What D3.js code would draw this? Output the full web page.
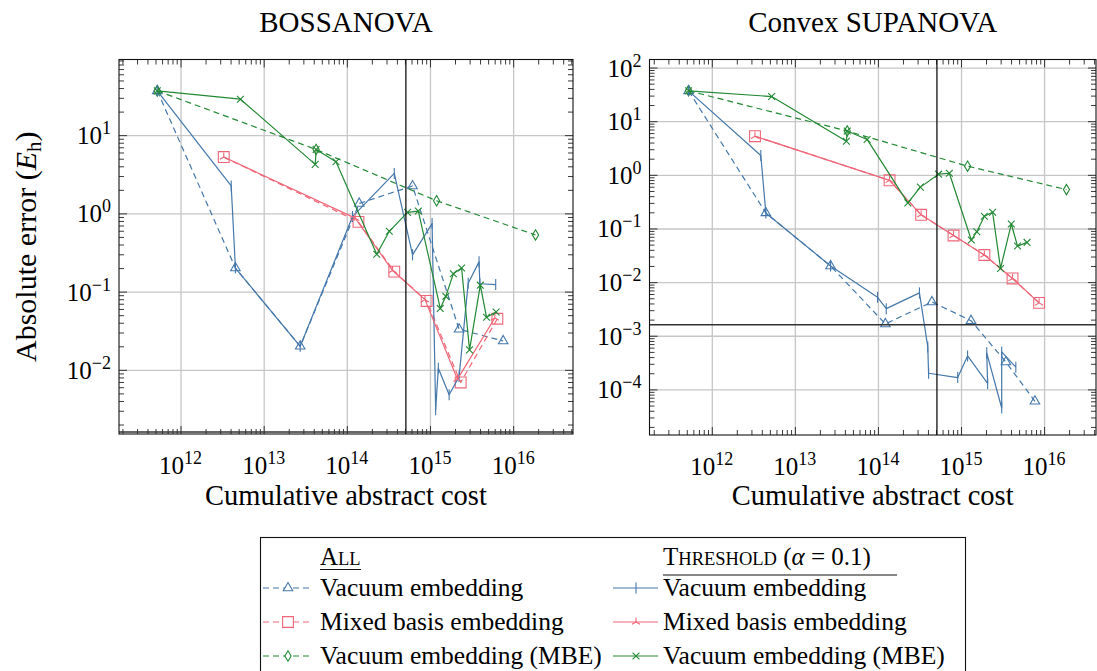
<!DOCTYPE html>
<html>
<head>
<meta charset="utf-8">
<script src="https://cdn.jsdelivr.net/npm/d3@7"></script>
<style>
  body { margin: 0; background: #fff; }
  svg { display: block; }
  svg text { font-family: "Liberation Serif", "Times New Roman", "DejaVu Serif", serif; }
</style>
</head>
<body>
<svg id="chart" width="1097" height="671"></svg>
<script>
// [cumulative abstract cost, absolute error (Eh)]
const bossVacuumAll = [[5.25e11, 36.8], [4.57e12, 0.20], [2.75e13, 0.020], [1.41e14, 1.34], [6.17e14, 2.24], [2.24e15, 0.033], [7.59e15, 0.0234]];
const bossVacuumThr = [[5.25e11, 36.8], [4.07e12, 2.24], [4.57e12, 0.20], [2.75e13, 0.020], [1.17e14, 0.91], [3.72e14, 3.24], [6.17e14, 0.295], [1.06e15, 0.74], [1.17e15, 0.0031], [1.26e15, 0.0105], [1.70e15, 0.0048], [2.24e15, 0.0082], [2.88e15, 0.128], [3.89e15, 0.24], [3.98e15, 0.126], [6.17e15, 0.123]];
const bossMixedAll = [[3.31e12, 5.25], [1.38e14, 0.78], [3.72e14, 0.18], [9.12e14, 0.076], [2.34e15, 0.0069], [6.46e15, 0.045]];
const bossMixedThr = [[3.31e12, 5.25], [1.26e14, 0.87], [3.55e14, 0.186], [8.71e14, 0.079], [2.14e15, 0.0076], [6.03e15, 0.046]];

const supaVacuumAll = [[5.25e11, 36.8], [4.47e12, 0.195], [2.69e13, 0.020], [1.23e14, 1.66e-3], [4.47e14, 4.27e-3], [1.32e15, 1.91e-3], [3.47e15, 3.24e-4], [7.76e15, 6.0e-5]];
const supaVacuumThr = [[5.25e11, 36.8], [3.89e12, 2.29], [4.47e12, 0.195], [2.69e13, 0.020], [9.9e13, 5.2e-3], [1.26e14, 3.2e-3], [3.16e14, 6.3e-3], [3.98e14, 6.2e-4], [4.07e14, 2.0e-4], [9.12e14, 1.66e-4], [1.20e15, 4.2e-4], [2.09e15, 1.29e-4], [2.04e15, 4.8e-4], [3.09e15, 4.5e-5], [3.09e15, 5.0e-4], [4.57e15, 2.6e-4]];
const supaMixedAll = [[3.31e12, 5.25], [1.38e14, 0.79], [3.31e14, 0.18], [8.13e14, 0.074], [1.91e15, 0.032], [4.17e15, 0.0117], [8.71e15, 0.0041]];
const supaMixedThr = [[3.31e12, 5.25], [1.38e14, 0.79], [3.31e14, 0.18], [8.13e14, 0.074], [1.91e15, 0.032], [4.17e15, 0.0117], [8.71e15, 0.0041]];

// MBE runs look the same in both panels
const mbeAll = [[5.25e11, 36.8], [4.27e13, 6.56], [1.20e15, 1.45], [1.86e16, 0.53]];
const mbeThr = [[5.25e11, 36.8], [5.25e12, 28.8], [4.17e13, 4.23], [4.27e13, 6.56], [7.41e13, 4.57], [2.29e14, 0.30], [3.24e14, 0.59], [5.37e14, 1.03], [7.24e14, 1.07], [1.33e15, 0.061], [1.55e15, 0.087], [1.91e15, 0.169], [2.40e15, 0.20], [2.99e15, 0.018], [4.03e15, 0.121], [4.79e15, 0.047], [6.24e15, 0.055]];

const costThreshold = 5.13e14;
const chemAccuracy = 1.6e-3;

const legendAllLabels = ["Vacuum embedding", "Mixed basis embedding", "Vacuum embedding (MBE)"];
const legendThrLabels = ["Vacuum embedding", "Mixed basis embedding", "Vacuum embedding (MBE)"];

const blue = "#4477AA", red = "#EE6677", green = "#228833";

const svg = d3.select("#chart");

function markerPath(type) {
  switch (type) {
    case "triangle": return "M0,-5.5L4.76,2.75L-4.76,2.75Z";
    case "square": return "M-5.4,-5.4H5.4V5.4H-5.4Z";
    case "diamond": return "M0,-5.2L3.1,0L0,5.2L-3.1,0Z";
    case "cross": return "M-3.4,-3.4L3.4,3.4M-3.4,3.4L3.4,-3.4";
    case "bar": return "M0,-5.5V5.5";
    case "tri": return "M0,0V-4.6M0,0L-4,2.3M0,0L4,2.3";
  }
}

function supText(sel, base, exp, size, raise) {
  sel.append("tspan").text(base);
  sel.append("tspan").attr("font-size", size).attr("dy", -raise).text(exp);
}

function drawPanel(cfg) {
  const { left, right, top, bottom } = cfg;
  const x = d3.scaleLog().domain(cfg.xDomain).range([left, right]);
  const y = d3.scaleLog().domain(cfg.yDomain).range([bottom, top]);
  const g = svg.append("g");

  const inX = v => v >= cfg.xDomain[0] && v <= cfg.xDomain[1];
  const inY = v => v >= cfg.yDomain[0] && v <= cfg.yDomain[1];
  const xMajor = d3.range(10, 18).map(e => Math.pow(10, e)).filter(inX);
  const yMajor = d3.range(-6, 4).map(e => Math.pow(10, e)).filter(inY);
  const minors = (lo, hi) => {
    const out = [];
    for (let e = lo; e <= hi; e++) for (let m = 2; m <= 9; m++) out.push(m * Math.pow(10, e));
    return out;
  };
  const xMinor = minors(10, 17).filter(inX);
  const yMinor = minors(-6, 3).filter(inY);

  // grid
  const grid = g.append("g").attr("class", "grid");
  grid.append("g").attr("transform", `translate(0,${bottom})`)
    .call(d3.axisBottom(x).tickValues(xMajor).tickSize(-(bottom - top)).tickFormat(""));
  grid.append("g").attr("transform", `translate(${left},0)`)
    .call(d3.axisLeft(y).tickValues(yMajor).tickSize(-(right - left)).tickFormat(""));
  grid.selectAll(".domain").remove();
  grid.selectAll("line").attr("stroke", "#c6c6c6").attr("stroke-width", 1.3);

  // inward ticks on all four sides
  const ticks = g.append("g");
  const addAxis = (axis, tr) => ticks.append("g").attr("transform", tr).call(axis.tickFormat(""));
  addAxis(d3.axisBottom(x).tickValues(xMajor).tickSize(-8), `translate(0,${bottom})`);
  addAxis(d3.axisBottom(x).tickValues(xMinor).tickSize(-5), `translate(0,${bottom})`);
  addAxis(d3.axisTop(x).tickValues(xMajor).tickSize(-8), `translate(0,${top})`);
  addAxis(d3.axisTop(x).tickValues(xMinor).tickSize(-5), `translate(0,${top})`);
  addAxis(d3.axisLeft(y).tickValues(yMajor).tickSize(-8), `translate(${left},0)`);
  addAxis(d3.axisLeft(y).tickValues(yMinor).tickSize(-5), `translate(${left},0)`);
  addAxis(d3.axisRight(y).tickValues(yMajor).tickSize(-8), `translate(${right},0)`);
  addAxis(d3.axisRight(y).tickValues(yMinor).tickSize(-5), `translate(${right},0)`);
  ticks.selectAll(".domain").remove();
  ticks.selectAll("line").attr("stroke", "#222").attr("stroke-width", 0.9);

  // data
  const clipId = "clip-" + cfg.id;
  g.append("clipPath").attr("id", clipId).append("rect")
    .attr("x", left).attr("y", top).attr("width", right - left).attr("height", bottom - top);
  const plot = g.append("g").attr("clip-path", `url(#${clipId})`);

  const line = d3.line().x(d => x(d[0])).y(d => y(d[1]));

  cfg.series.forEach(s => {
    plot.append("path")
      .datum(s.data)
      .attr("d", line)
      .attr("fill", "none")
      .attr("stroke", s.color)
      .attr("stroke-width", 1.2)
      .attr("stroke-linejoin", "round")
      .attr("stroke-dasharray", s.dashed ? "6,4" : null);
    plot.append("g").selectAll("path")
      .data(s.data)
      .join("path")
      .attr("transform", d => `translate(${x(d[0])},${y(d[1])})`)
      .attr("d", markerPath(s.marker))
      .attr("fill", "none")
      .attr("stroke", s.color)
      .attr("stroke-width", 1.1);
  });

  // reference lines
  plot.append("line")
    .attr("x1", x(costThreshold)).attr("x2", x(costThreshold))
    .attr("y1", top).attr("y2", bottom)
    .attr("stroke", "#111").attr("stroke-width", 1.3);
  plot.append("line")
    .attr("x1", left).attr("x2", right)
    .attr("y1", y(chemAccuracy)).attr("y2", y(chemAccuracy))
    .attr("stroke", "#333").attr("stroke-width", 1.5);

  // frame
  g.append("rect")
    .attr("x", left).attr("y", top).attr("width", right - left).attr("height", bottom - top)
    .attr("fill", "none").attr("stroke", "#111").attr("stroke-width", 1.1);

  // tick labels
  const fmtExp = v => String(Math.round(Math.log10(v))).replace("-", "\u2212");
  g.append("g").selectAll("text")
    .data(xMajor)
    .join("text")
    .attr("x", d => x(d))
    .attr("y", bottom + 40)
    .attr("text-anchor", "middle")
    .attr("font-size", 25)
    .each(function (d) { supText(d3.select(this), "10", fmtExp(d), 18, 10); });
  g.append("g").selectAll("text")
    .data(yMajor)
    .join("text")
    .attr("x", left - 8)
    .attr("y", d => y(d) + 9)
    .attr("text-anchor", "end")
    .attr("font-size", 25)
    .each(function (d) { supText(d3.select(this), "10", fmtExp(d), 18, 10); });

  // title and x label
  g.append("text")
    .attr("x", (left + right) / 2).attr("y", 32)
    .attr("text-anchor", "middle").attr("font-size", 29)
    .text(cfg.title);
  g.append("text")
    .attr("x", (left + right) / 2).attr("y", 505)
    .attr("text-anchor", "middle").attr("font-size", 28.5)
    .text("Cumulative abstract cost");

  if (cfg.yLabel) {
    const t = g.append("text")
      .attr("transform", `translate(36,${(top + bottom) / 2}) rotate(-90)`)
      .attr("text-anchor", "middle").attr("font-size", 30);
    t.append("tspan").text("Absolute error (");
    t.append("tspan").attr("font-style", "italic").text("E");
    t.append("tspan").attr("font-size", 21).attr("dy", 5).text("h");
    t.append("tspan").attr("dy", -5).text(")");
  }
}

const seriesFor = (vacAll, mixAll, vacThr, mixThr) => [
  { data: vacAll, color: blue, dashed: true, marker: "triangle" },
  { data: mixAll, color: red, dashed: true, marker: "square" },
  { data: mbeAll, color: green, dashed: true, marker: "diamond" },
  { data: vacThr, color: blue, dashed: false, marker: "bar" },
  { data: mixThr, color: red, dashed: false, marker: "tri" },
  { data: mbeThr, color: green, dashed: false, marker: "cross" }
];

drawPanel({
  id: "boss", title: "BOSSANOVA", yLabel: true,
  left: 119, right: 573, top: 59.5, bottom: 434,
  xDomain: [Math.pow(10, 11.26), Math.pow(10, 16.72)],
  yDomain: [Math.pow(10, -2.82), Math.pow(10, 1.967)],
  series: seriesFor(bossVacuumAll, bossMixedAll, bossVacuumThr, bossMixedThr)
});

drawPanel({
  id: "supa", title: "Convex SUPANOVA", yLabel: false,
  left: 649.5, right: 1096, top: 59.5, bottom: 435,
  xDomain: [Math.pow(10, 11.25), Math.pow(10, 16.625)],
  yDomain: [Math.pow(10, -4.85), Math.pow(10, 2.15)],
  series: seriesFor(supaVacuumAll, supaMixedAll, supaVacuumThr, supaMixedThr)
});

// legend
const legend = svg.append("g");
legend.append("rect")
  .attr("x", 260.5).attr("y", 537.5).attr("width", 705).attr("height", 160)
  .attr("fill", "#fff").attr("stroke", "#111").attr("stroke-width", 1.1);

const legendColors = [blue, red, green];
const allMarkers = ["triangle", "square", "diamond"];
const thrMarkers = ["bar", "tri", "cross"];
const rowY = [588, 622, 656];

function legendHeader(xPos, parts, underlineEnd, underlineY) {
  const t = legend.append("text").attr("x", xPos).attr("y", 565).attr("font-size", 25);
  parts.forEach(p => {
    const ts = t.append("tspan").text(p.text);
    if (p.size) ts.attr("font-size", p.size);
    if (p.italic) ts.attr("font-style", "italic");
  });
  legend.append("line")
    .attr("x1", xPos).attr("x2", underlineEnd)
    .attr("y1", underlineY).attr("y2", underlineY)
    .attr("stroke", "#111").attr("stroke-width", 1.1);
}

legendHeader(320, [{ text: "A" }, { text: "LL", size: 18.5 }], 361, 569.5);
legendHeader(663, [{ text: "T" }, { text: "HRESHOLD", size: 18.5 }, { text: " (" }, { text: "\u03b1", italic: true }, { text: " = 0.1)" }], 897, 575);

function legendColumn(labels, markers, dashed, x0, x1, xm, xt) {
  labels.forEach((label, i) => {
    const yy = rowY[i];
    legend.append("line")
      .attr("x1", x0).attr("x2", x1).attr("y1", yy).attr("y2", yy)
      .attr("stroke", legendColors[i]).attr("stroke-width", 1.2)
      .attr("stroke-dasharray", dashed ? "6,4" : null);
    legend.append("path")
      .attr("transform", `translate(${xm},${yy})`)
      .attr("d", markerPath(markers[i]))
      .attr("fill", dashed ? "#fff" : "none")
      .attr("stroke", legendColors[i]).attr("stroke-width", 1.1);
    legend.append("text")
      .attr("x", xt).attr("y", yy + 8)
      .attr("font-size", 25.5)
      .text(label);
  });
}

legendColumn(legendAllLabels, allMarkers, true, 263, 313, 288, 320);
legendColumn(legendThrLabels, thrMarkers, false, 613, 658, 636, 663);
</script>
</body>
</html>
